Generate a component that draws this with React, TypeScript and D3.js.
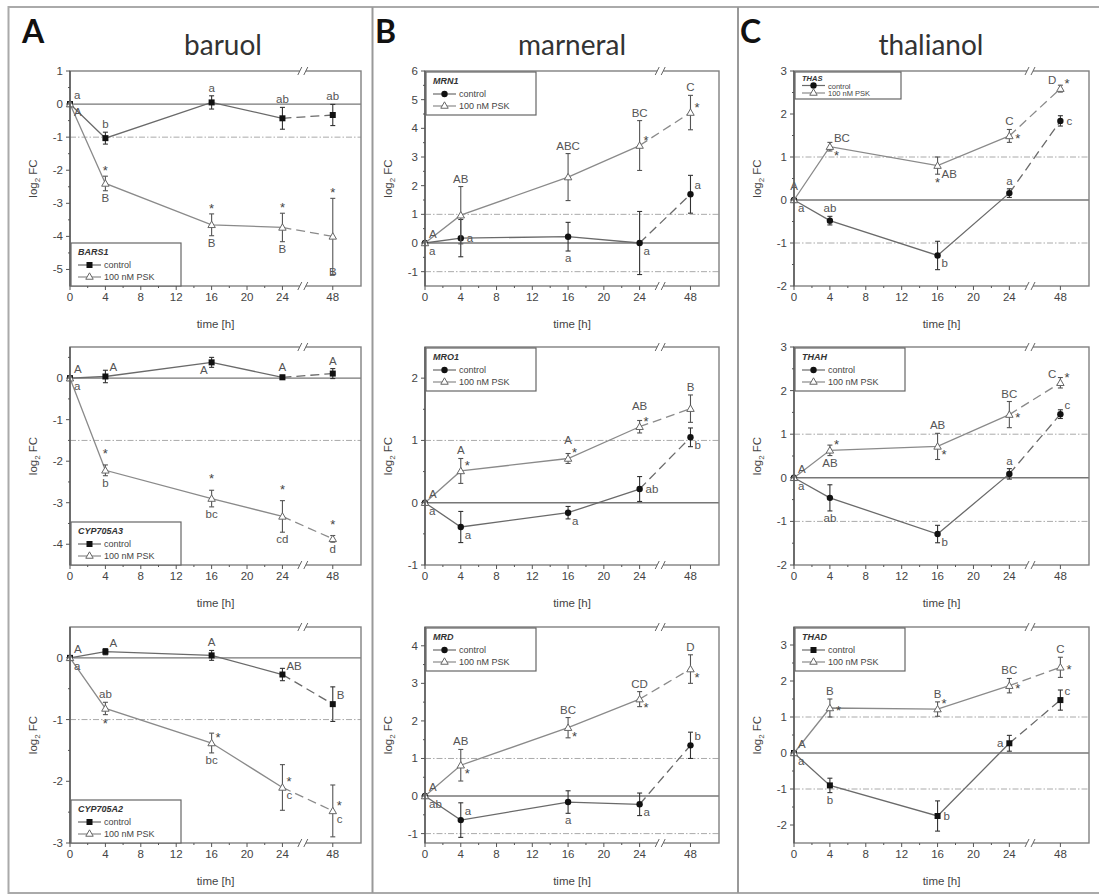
import React from 'react';
import * as d3 from 'd3';

// ---------- data ----------
const times = [0, 4, 16, 24, 48];
const xTickValues = [0, 4, 8, 12, 16, 20, 24, 48];
const xMinorValues = [2, 6, 10, 14, 18, 22];
const columnTitles = ['baruol', 'marneral', 'thalianol'];
const columnLetters = ['A', 'B', 'C'];
const seriesNames = ['control', '100 nM PSK'];

// A top – BARS1
const bars1Control = [0, -1.03, 0.05, -0.43, -0.33];
const bars1ControlErr = [0, 0.18, 0.2, 0.33, 0.32];
const bars1Psk = [0, -2.4, -3.65, -3.73, -4.0];
const bars1PskErr = [0, 0.22, 0.33, 0.43, 1.15];
const bars1ControlLetters = ['a', 'b', 'a', 'ab', 'ab'];
const bars1PskLetters = ['A', 'B', 'B', 'B', 'B'];

// A middle – CYP705A3
const cyp705a3Control = [0, 0.04, 0.38, 0.02, 0.11];
const cyp705a3ControlErr = [0, 0.15, 0.12, 0.05, 0.12];
const cyp705a3Psk = [0, -2.22, -2.9, -3.33, -3.87];
const cyp705a3PskErr = [0, 0.13, 0.2, 0.38, 0.08];
const cyp705a3ControlLetters = ['A', 'A', 'A', 'A', 'A'];
const cyp705a3PskLetters = ['a', 'b', 'bc', 'cd', 'd'];

// A bottom – CYP705A2
const cyp705a2Control = [0, 0.1, 0.04, -0.27, -0.75];
const cyp705a2ControlErr = [0, 0.05, 0.08, 0.1, 0.28];
const cyp705a2Psk = [0, -0.82, -1.38, -2.1, -2.48];
const cyp705a2PskErr = [0, 0.1, 0.16, 0.37, 0.42];
const cyp705a2ControlLetters = ['A', 'A', 'A', 'AB', 'B'];
const cyp705a2PskLetters = ['a', 'ab', 'bc', 'c', 'c'];

// B top – MRN1
const mrn1Control = [0, 0.17, 0.22, 0, 1.7];
const mrn1ControlErr = [0, 0.65, 0.5, 1.1, 0.66];
const mrn1Psk = [0, 0.97, 2.3, 3.4, 4.55];
const mrn1PskErr = [0, 1.0, 0.82, 0.87, 0.6];
const mrn1ControlLetters = ['a', 'a', 'a', 'a', 'a'];
const mrn1PskLetters = ['A', 'AB', 'ABC', 'BC', 'C'];

// B middle – MRO1
const mro1Control = [0, -0.39, -0.16, 0.22, 1.05];
const mro1ControlErr = [0, 0.25, 0.1, 0.2, 0.15];
const mro1Psk = [0, 0.51, 0.71, 1.22, 1.51];
const mro1PskErr = [0, 0.2, 0.08, 0.1, 0.22];
const mro1ControlLetters = ['a', 'a', 'a', 'ab', 'b'];
const mro1PskLetters = ['A', 'A', 'A', 'AB', 'B'];

// B bottom – MRD
const mrdControl = [0, -0.64, -0.16, -0.22, 1.35];
const mrdControlErr = [0, 0.46, 0.3, 0.3, 0.35];
const mrdPsk = [0, 0.82, 1.82, 2.58, 3.38];
const mrdPskErr = [0, 0.42, 0.27, 0.2, 0.38];
const mrdControlLetters = ['ab', 'a', 'a', 'a', 'b'];
const mrdPskLetters = ['A', 'AB', 'BC', 'CD', 'D'];

// C top – THAS
const thasControl = [0, -0.48, -1.29, 0.16, 1.84];
const thasControlErr = [0, 0.1, 0.33, 0.1, 0.12];
const thasPsk = [0, 1.24, 0.8, 1.49, 2.59];
const thasPskErr = [0, 0.1, 0.2, 0.15, 0.08];
const thasControlLetters = ['a', 'ab', 'b', 'a', 'c'];
const thasPskLetters = ['A', 'BC', 'AB', 'C', 'D'];

// C middle – THAH
const thahControl = [0, -0.46, -1.29, 0.09, 1.46];
const thahControlErr = [0, 0.3, 0.2, 0.12, 0.1];
const thahPsk = [0, 0.63, 0.72, 1.45, 2.18];
const thahPskErr = [0, 0.12, 0.3, 0.3, 0.12];
const thahControlLetters = ['a', 'ab', 'b', 'a', 'c'];
const thahPskLetters = ['A', 'AB', 'AB', 'BC', 'C'];

// C bottom – THAD
const thadControl = [0, -0.9, -1.75, 0.27, 1.47];
const thadControlErr = [0, 0.2, 0.42, 0.22, 0.28];
const thadPsk = [0, 1.25, 1.22, 1.87, 2.38];
const thadPskErr = [0, 0.25, 0.2, 0.2, 0.28];
const thadControlLetters = ['a', 'b', 'b', 'a', 'c'];
const thadPskLetters = ['A', 'B', 'B', 'BC', 'C'];

// axis settings
const bars1YDomain = [-5.5, 1];
const bars1YTicks = [-5, -4, -3, -2, -1, 0, 1];
const cyp705a3YDomain = [-4.5, 0.75];
const cyp705a3YTicks = [-4, -3, -2, -1, 0];
const cyp705a2YDomain = [-3, 0.5];
const cyp705a2YTicks = [-3, -2, -1, 0];
const mrn1YDomain = [-1.5, 6];
const mrn1YTicks = [-1, 0, 1, 2, 3, 4, 5, 6];
const mro1YDomain = [-1, 2.5];
const mro1YTicks = [-1, 0, 1, 2];
const mrdYDomain = [-1.25, 4.5];
const mrdYTicks = [-1, 0, 1, 2, 3, 4];
const thasYDomain = [-2, 3];
const thahYDomain = [-2, 3];
const thadYDomain = [-2.5, 3.5];
const thYTicks = [-2, -1, 0, 1, 2, 3];

// ---------- layout (positions / styles) ----------
const colLeft = [70, 425, 794];
const colRight = [361, 719, 1089];
const rowTop = [71, 347, 627];
const rowBottom = [286, 565, 843];

const panels = [
  { col: 0, row: 0, gene: 'BARS1', c: bars1Control, ce: bars1ControlErr, p: bars1Psk, pe: bars1PskErr, cl: bars1ControlLetters, pl: bars1PskLetters,
    clPos: ['ne', 'n', 'n', 'n', 'n'], plPos: ['se', 's', 's', 's', 'sb'], stars: ['', 'n', 'n', 'n', 'n'],
    yDomain: bars1YDomain, yTicks: bars1YTicks, refs: [-1], marker: 'square', legend: 'bl', compact: false },
  { col: 0, row: 1, gene: 'CYP705A3', c: cyp705a3Control, ce: cyp705a3ControlErr, p: cyp705a3Psk, pe: cyp705a3PskErr, cl: cyp705a3ControlLetters, pl: cyp705a3PskLetters,
    clPos: ['ne', 'ne', 'sw', 'n', 'n'], plPos: ['se', 's', 's', 's', 's'], stars: ['', 'nn', 'nn', 'nn', 'nn'],
    yDomain: cyp705a3YDomain, yTicks: cyp705a3YTicks, refs: [-1.5], marker: 'square', legend: 'bl', compact: false },
  { col: 0, row: 2, gene: 'CYP705A2', c: cyp705a2Control, ce: cyp705a2ControlErr, p: cyp705a2Psk, pe: cyp705a2PskErr, cl: cyp705a2ControlLetters, pl: cyp705a2PskLetters,
    clPos: ['ne', 'ne', 'n', 'ne', 'ne'], plPos: ['se', 'n', 's', 'se', 'se'], stars: ['', 's', 'ne', 'ne', 'ne'],
    yDomain: cyp705a2YDomain, yTicks: cyp705a2YTicks, refs: [-1], marker: 'square', legend: 'bl', compact: false },
  { col: 1, row: 0, gene: 'MRN1', c: mrn1Control, ce: mrn1ControlErr, p: mrn1Psk, pe: mrn1PskErr, cl: mrn1ControlLetters, pl: mrn1PskLetters,
    clPos: ['se', 'e', 's', 'se', 'ne'], plPos: ['ne', 'n', 'n', 'n', 'n'], stars: ['', '', '', 'ne', 'ne'],
    yDomain: mrn1YDomain, yTicks: mrn1YTicks, refs: [1, -1], marker: 'circle', legend: 'tl', compact: false },
  { col: 1, row: 1, gene: 'MRO1', c: mro1Control, ce: mro1ControlErr, p: mro1Psk, pe: mro1PskErr, cl: mro1ControlLetters, pl: mro1PskLetters,
    clPos: ['se', 'se', 'se', 'e', 'se'], plPos: ['ne', 'n', 'nn', 'nn', 'n'], stars: ['', 'ne', 'ne', 'ne', ''],
    yDomain: mro1YDomain, yTicks: mro1YTicks, refs: [1], marker: 'circle', legend: 'tl', compact: false },
  { col: 1, row: 2, gene: 'MRD', c: mrdControl, ce: mrdControlErr, p: mrdPsk, pe: mrdPskErr, cl: mrdControlLetters, pl: mrdPskLetters,
    clPos: ['se', 'ne', 's', 'se', 'ne'], plPos: ['ne', 'n', 'n', 'n', 'n'], stars: ['', 'se', 'se', 'se', 'se'],
    yDomain: mrdYDomain, yTicks: mrdYTicks, refs: [1, -1], marker: 'circle', legend: 'tl', compact: false },
  { col: 2, row: 0, gene: 'THAS', c: thasControl, ce: thasControlErr, p: thasPsk, pe: thasPskErr, cl: thasControlLetters, pl: thasPskLetters,
    clPos: ['se', 'n', 'se', 'n', 'e'], plPos: ['nn', 'ne', 'se', 'n', 'nw'], stars: ['', 'se', 's', 'e', 'ne'],
    yDomain: thasYDomain, yTicks: thYTicks, refs: [1, -1], marker: 'circle', legend: 'tl', compact: true },
  { col: 2, row: 1, gene: 'THAH', c: thahControl, ce: thahControlErr, p: thahPsk, pe: thahPskErr, cl: thahControlLetters, pl: thahPskLetters,
    clPos: ['se', 's', 'se', 'n', 'ne'], plPos: ['ne', 's', 'n', 'n', 'nw'], stars: ['', 'ne', 'se', 'e', 'ne'],
    yDomain: thahYDomain, yTicks: thYTicks, refs: [1, -1], marker: 'circle', legend: 'tl', compact: false },
  { col: 2, row: 2, gene: 'THAD', c: thadControl, ce: thadControlErr, p: thadPsk, pe: thadPskErr, cl: thadControlLetters, pl: thadPskLetters,
    clPos: ['se', 's', 'e', 'w', 'ne'], plPos: ['ne', 'n', 'n', 'n', 'n'], stars: ['', 'e', 'ne', 'e', 'e'],
    yDomain: thadYDomain, yTicks: thYTicks, refs: [1, -1], marker: 'square', legend: 'tl', compact: false },
];

const FONT = 'Liberation Sans, Arial, sans-serif';
const TICK_COLOR = '#444';
const FRAME = '#808080';
const CTRL_LINE = '#6a6a6a';
const PSK_LINE = '#8a8a8a';

function place(code: string, px: number, py: number, yTop: number, yBot: number, star: boolean) {
  switch (code) {
    case 'n': return { x: px, y: star ? yTop - 1 : yTop - 4, a: 'middle' };
    case 'nn': return { x: px, y: star ? yTop - 7 : yTop - 10, a: 'middle' };
    case 's': return { x: px, y: star ? yBot + 13 : yBot + 11, a: 'middle' };
    case 'sb': return { x: px, y: py + 40, a: 'middle' };
    case 'e': return { x: px + 6, y: star ? py + 7 : py + 4, a: 'start' };
    case 'w': return { x: px - 6, y: star ? py + 7 : py + 4, a: 'end' };
    case 'ne': return { x: px + 4, y: star ? py - 1 : py - 5, a: 'start' };
    case 'se': return { x: px + 4, y: star ? py + 13 : py + 12, a: 'start' };
    case 'nw': return { x: px - 4, y: star ? py - 1 : py - 5, a: 'end' };
    case 'sw': return { x: px - 4, y: star ? py + 13 : py + 12, a: 'end' };
    default: return null;
  }
}

function Marker({ kind, x, y }: { kind: string; x: number; y: number }) {
  if (kind === 'square') return <rect x={x - 3} y={y - 3} width={6} height={6} fill="#111" />;
  if (kind === 'circle') return <circle cx={x} cy={y} r={3.2} fill="#111" />;
  const tri = d3.symbol().type(d3.symbolTriangle).size(24)() as string;
  return <path d={tri} transform={`translate(${x},${y + 0.6})`} fill="#fff" stroke="#666" strokeWidth={1} />;
}

function Series({ vals, errs, letters, lpos, stars, x, y, kind, color }: any) {
  const pts = times.map((t, i) => [x(t), y(vals[i])] as [number, number]);
  const line = d3.line();
  const solid = line(pts.slice(0, 4)) as string;
  const dashed = line(pts.slice(3)) as string;
  return (
    <g>
      <path d={solid} fill="none" stroke={color} strokeWidth={1.3} />
      <path d={dashed} fill="none" stroke={color} strokeWidth={1.3} strokeDasharray="9,5" />
      {times.map((t, i) => {
        const e = errs[i];
        if (!e) return null;
        const px = x(t), y1 = y(vals[i] + e), y2 = y(vals[i] - e);
        return (
          <g key={'e' + i} stroke={kind === 'triangle' ? '#555' : '#333'} strokeWidth={1.1}>
            <line x1={px} x2={px} y1={y1} y2={y2} />
            <line x1={px - 2.5} x2={px + 2.5} y1={y1} y2={y1} />
            <line x1={px - 2.5} x2={px + 2.5} y1={y2} y2={y2} />
          </g>
        );
      })}
      {times.map((t, i) => <Marker key={'m' + i} kind={kind} x={x(t)} y={y(vals[i])} />)}
      {times.map((t, i) => {
        const px = x(t), py = y(vals[i]);
        const pl = place(lpos[i], px, py, y(vals[i] + errs[i]), y(vals[i] - errs[i]), false);
        const ps = stars ? place(stars[i], px, py, y(vals[i] + errs[i]), y(vals[i] - errs[i]), true) : null;
        return (
          <g key={'l' + i}>
            {pl && <text x={pl.x} y={pl.y} textAnchor={pl.a as any} fontSize={11.5} fontFamily={FONT} fill="#555">{letters[i]}</text>}
            {ps && <text x={ps.x} y={ps.y} textAnchor={ps.a as any} fontSize={13} fontFamily={FONT} fill="#444">*</text>}
          </g>
        );
      })}
    </g>
  );
}

function Panel({ cfg }: { cfg: any }) {
  const left = colLeft[cfg.col], right = colRight[cfg.col];
  const top = rowTop[cfg.row], bottom = rowBottom[cfg.row];
  const W = right - left;
  const x = d3.scaleLinear().domain([0, 24, 48, 51.2]).range([left, left + 0.73 * W, left + 0.903 * W, right]);
  const y = d3.scaleLinear().domain(cfg.yDomain).range([bottom, top]);
  const breakX = left + 0.8 * W;
  const yMinor: number[] = [];
  cfg.yTicks.forEach((t: number) => {
    const m = t + 0.5;
    if (m > cfg.yDomain[0] && m < cfg.yDomain[1]) yMinor.push(m);
    const m2 = t - 0.5;
    if (t === cfg.yTicks[0] && m2 > cfg.yDomain[0]) yMinor.push(m2);
  });

  // legend
  const lw = cfg.compact ? 106 : 110;
  const lh = cfg.compact ? 27 : 43;
  const lx = left + 1;
  const ly = cfg.legend === 'bl' ? bottom - lh : top + 1;
  const fs = cfg.compact ? 7.5 : 9;
  const r1 = cfg.compact ? ly + 8.5 : ly + 12;
  const r2 = cfg.compact ? ly + 16.5 : ly + 25;
  const r3 = cfg.compact ? ly + 24 : ly + 37;

  return (
    <g>
      {cfg.refs.map((r: number) => (
        <line key={r} x1={left} x2={right} y1={y(r)} y2={y(r)} stroke="#aaa" strokeWidth={1} strokeDasharray="6,2,1.5,2" />
      ))}
      <line x1={left} x2={right} y1={y(0)} y2={y(0)} stroke="#777" strokeWidth={1.4} />
      <Series vals={cfg.c} errs={cfg.ce} letters={cfg.cl} lpos={cfg.clPos} stars={null} x={x} y={y} kind={cfg.marker} color={CTRL_LINE} />
      <Series vals={cfg.p} errs={cfg.pe} letters={cfg.pl} lpos={cfg.plPos} stars={cfg.stars} x={x} y={y} kind="triangle" color={PSK_LINE} />
      <rect x={left} y={top} width={W} height={bottom - top} fill="none" stroke={FRAME} strokeWidth={1.4} />
      <line x1={left} x2={left} y1={top} y2={bottom} stroke="#555" strokeWidth={1.4} />
      {/* axis break marks */}
      {[top, bottom].map((yy) => (
        <g key={yy}>
          <rect x={breakX - 3} y={yy - 2} width={6} height={4} fill="#fff" />
          <line x1={breakX - 5} x2={breakX - 1} y1={yy + 4} y2={yy - 4} stroke="#666" strokeWidth={1} />
          <line x1={breakX + 1} x2={breakX + 5} y1={yy + 4} y2={yy - 4} stroke="#666" strokeWidth={1} />
        </g>
      ))}
      {/* legend */}
      <rect x={lx} y={ly} width={lw} height={lh} fill="#fff" stroke="#666" strokeWidth={1.2} />
      <text x={lx + 7} y={r1} fontSize={fs} fontStyle="italic" fontWeight="bold" fontFamily={FONT} fill="#333">{cfg.gene}</text>
      <line x1={lx + 7} x2={lx + 30} y1={r2 - 3} y2={r2 - 3} stroke={CTRL_LINE} strokeWidth={1.2} />
      <Marker kind={cfg.marker} x={lx + 18.5} y={r2 - 3} />
      <text x={lx + 33} y={r2} fontSize={fs} fontFamily={FONT} fill="#444">{seriesNames[0]}</text>
      <line x1={lx + 7} x2={lx + 30} y1={r3 - 3} y2={r3 - 3} stroke={PSK_LINE} strokeWidth={1.2} />
      <Marker kind="triangle" x={lx + 18.5} y={r3 - 3.5} />
      <text x={lx + 33} y={r3} fontSize={fs} fontFamily={FONT} fill="#444">{seriesNames[1]}</text>
      {/* y ticks */}
      {cfg.yTicks.map((t: number) => (
        <g key={'y' + t}>
          <line x1={left - 4} x2={left} y1={y(t)} y2={y(t)} stroke="#555" strokeWidth={1} />
          <text x={left - 7} y={y(t) + 4} textAnchor="end" fontSize={11.5} fontFamily={FONT} fill={TICK_COLOR}>{t}</text>
        </g>
      ))}
      {yMinor.map((t) => (
        <line key={'ym' + t} x1={left - 2} x2={left} y1={y(t)} y2={y(t)} stroke="#555" strokeWidth={1} />
      ))}
      {/* x ticks */}
      {xTickValues.map((t) => (
        <g key={'x' + t}>
          <line x1={x(t)} x2={x(t)} y1={bottom} y2={bottom + 4} stroke="#555" strokeWidth={1} />
          <text x={x(t)} y={bottom + 15} textAnchor="middle" fontSize={11.5} fontFamily={FONT} fill={TICK_COLOR}>{t}</text>
        </g>
      ))}
      {xMinorValues.map((t) => (
        <line key={'xm' + t} x1={x(t)} x2={x(t)} y1={bottom} y2={bottom + 2} stroke="#555" strokeWidth={1} />
      ))}
      <text x={(left + right) / 2} y={bottom + 42} textAnchor="middle" fontSize={11.5} fontFamily={FONT} fill={TICK_COLOR}>time [h]</text>
      <text transform={`translate(${left - 33},${(top + bottom) / 2}) rotate(-90)`} textAnchor="middle" fontSize={11.5} fontFamily={FONT} fill={TICK_COLOR}>
        log<tspan fontSize={8} dy={3}>2</tspan><tspan dy={-3}> FC</tspan>
      </text>
    </g>
  );
}

export default function App() {
  const titleX = [223, 572, 931];
  const letterX = [22, 375, 740];
  return (
    <svg width={1099} height={896} style={{ position: 'absolute', left: 0, top: 0, background: '#fff' }}>
      <rect x={0} y={0} width={1099} height={896} fill="#fff" />
      <rect x={8.5} y={7} width={1095} height={886} fill="none" stroke="#aaa" strokeWidth={2} />
      <line x1={372.5} x2={372.5} y1={7} y2={893} stroke="#999" strokeWidth={2} />
      <line x1={738} x2={738} y1={7} y2={893} stroke="#999" strokeWidth={2} />
      {columnTitles.map((t, i) => (
        <g key={t}>
          <text x={letterX[i]} y={43} fontSize={32} fontWeight="bold" fontFamily="Lato, Open Sans, sans-serif" fill="#111">{columnLetters[i]}</text>
          <text x={titleX[i]} y={55} textAnchor="middle" fontSize={28} fontFamily="Lato, Open Sans, sans-serif" fill="#333">{t}</text>
        </g>
      ))}
      {panels.map((p) => <Panel key={p.gene} cfg={p} />)}
    </svg>
  );
}
